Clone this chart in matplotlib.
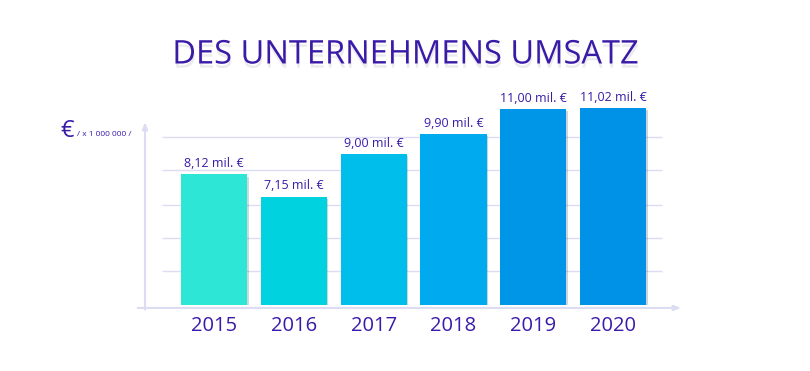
import numpy as np
import matplotlib
matplotlib.use("Agg")
import matplotlib.pyplot as plt
import matplotlib.patheffects as pe

# データ
years = ["2015", "2016", "2017", "2018", "2019", "2020"]
umsatz = [8.12, 7.15, 9.00, 9.90, 11.00, 11.02]
bar_colors = ["#2EE6D6", "#00D2E0", "#00BEEB", "#00AAEE", "#0096E8", "#0092E6"]
grid_levels = [3.9, 5.35, 6.8, 8.3, 9.75]

text_color = "#3A1BA8"
line_color = "#DCDCF2"
base = 2.4

plt.rcParams["font.family"] = ["Open Sans", "DejaVu Sans"]

W, H = 810, 371
fig = plt.figure(figsize=(W / 100, H / 100), dpi=100)
ax = fig.add_axes([145 / W, (H - 305) / H, 540 / W, 210 / H])

x = np.arange(len(years))
ax.set_xlim(-0.865, 5.90)
ax.set_ylim(base, 11.6)

# 補助線
ax.hlines(grid_levels, -0.652, 5.614, color=line_color, lw=1, zorder=0)

bars = ax.bar(x, np.array(umsatz) - base, bottom=base, width=0.83,
              color=bar_colors, zorder=2)
for b in bars:
    b.set_path_effects([pe.SimplePatchShadow(offset=(1, -1.5), alpha=0.2),
                        pe.Normal()])

labels = [f"{v:.2f}".replace(".", ",") + " mil. €" for v in umsatz]
ax.bar_label(bars, labels=labels, padding=3, color=text_color, fontsize=9)

ax.set_xticks(x)
ax.set_xticklabels(years, fontsize=14.5, color=text_color)
ax.tick_params(axis="x", length=0, pad=8)
ax.set_yticks([])
for s in ax.spines.values():
    s.set_visible(False)

# 軸の矢印
arrow = dict(arrowstyle="-|>,head_length=0.4,head_width=0.15", color=line_color, lw=1.5)
ax.annotate("", xy=(0.998, -0.014), xytext=(-0.0185, -0.014),
            xycoords="axes fraction", arrowprops=arrow, annotation_clip=False)
ax.annotate("", xy=(0.0, 0.885), xytext=(0.0, -0.035),
            xycoords="axes fraction", arrowprops=arrow, annotation_clip=False)

# 単位
fig.text(60 / W, 1 - 137 / H, "€", fontsize=17, color=text_color)
fig.text(77 / W, 1 - 136 / H, "/ x 1 000 000 /", fontsize=6, color=text_color)

# タイトル
fig.text(0.5, 1 - 55 / H, "DES UNTERNEHMENS UMSATZ", ha="center", va="center",
         fontsize=23.5, color=text_color,
         path_effects=[pe.withSimplePatchShadow(offset=(0.5, -3), alpha=0.25,
                                                shadow_rgbFace="#b0b0b8")])

fig.savefig("out.png", dpi=100, facecolor="white")
